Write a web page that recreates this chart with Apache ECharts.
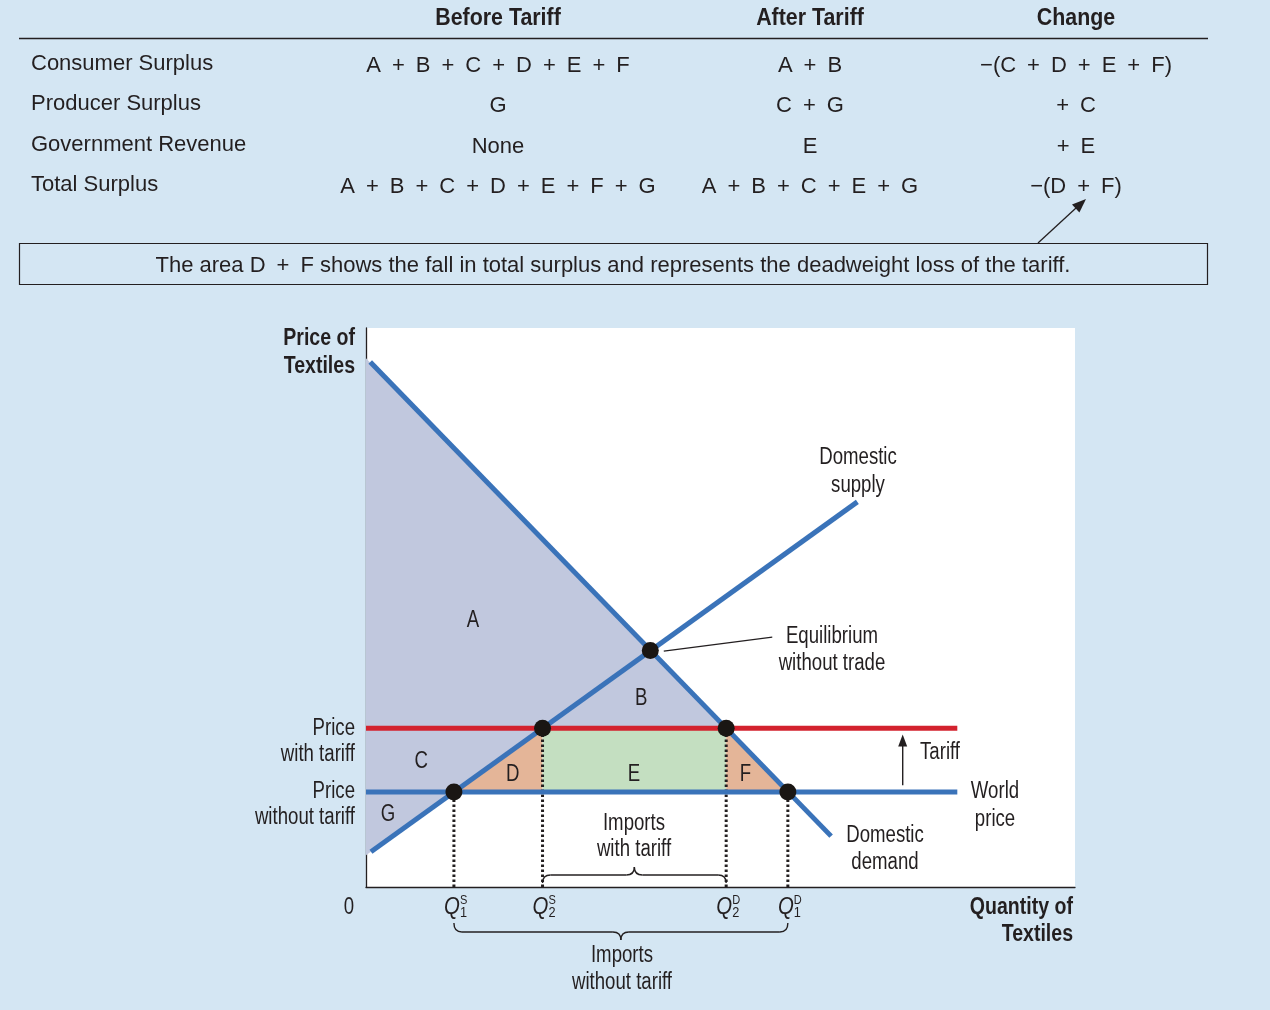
<!DOCTYPE html>
<html><head><meta charset="utf-8">
<script src="https://cdn.jsdelivr.net/npm/echarts@6/dist/echarts.min.js"></script>
<style>html,body{margin:0;padding:0;background:#d4e6f3;}#c{width:1270px;height:1010px;}</style>
</head><body><div id="c"></div>
<script>
// ---------- table data ----------
const tableHeaders = ['Before Tariff', 'After Tariff', 'Change'];
const rowLabels = ['Consumer Surplus', 'Producer Surplus', 'Government Revenue', 'Total Surplus'];
const beforeTariff = ['A + B + C + D + E + F', 'G', 'None', 'A + B + C + D + E + F + G'];
const afterTariff = ['A + B', 'C + G', 'E', 'A + B + C + E + G'];
const changeCol = ['−(C + D + E + F)', '+ C', '+ E', '−(D + F)'];
const noteText = 'The area D + F shows the fall in total surplus and represents the deadweight loss of the tariff.';

// ---------- diagram data (quantity 0-100, price 0-100) ----------
const demandQ = [0.6, 65.6];
const demandP = [93.9, 9.1];
const supplyQ = [0.7, 69.3];
const supplyP = [6.3, 68.9];
const demandAxisPrice = 94.6;   // demand at Q = 0
const supplyAxisPrice = 5.66;   // supply at Q = 0
const worldPrice = 17.0;
const tariffPrice = 28.4;
const priceLineEndQ = 83.4;
const quantitiesQ = [12.4, 24.9, 50.8, 59.5];          // Q1S, Q2S, Q2D, Q1D
const quantitySup = ['S', 'S', 'D', 'D'];
const quantitySub = ['1', '2', '2', '1'];
const quantityPrice = [17.0, 28.4, 28.4, 17.0];
const equilibrium = [40.1, 42.3];
const leaderQ = [42.0, 57.3];
const leaderP = [42.2, 44.7];
const tariffArrowQ = 75.7;
const tariffArrowP = [18.2, 27.3];
const regionNames = ['A', 'B', 'C', 'D', 'E', 'F', 'G'];
const regionQ = [15.1, 38.8, 7.8, 20.7, 37.8, 53.5, 3.1];
const regionP = [47.6, 33.7, 22.4, 20.1, 20.1, 20.1, 12.9];

// ---------- styles ----------
const INK = '#231f20';
const BLUE = '#3a73b9';
const RED = '#d3222e';
const LAV = '#c1c8de';
const ORANGE = '#e4b598';
const GREEN = '#c4dfc1';
const FT = '"Liberation Sans","DejaVu Sans",sans-serif';
const NARROW = 0.81, NARROW_B = 0.85;
const SP = s => s.replace(/ \+ /g, '\u2002+\u2002').replace(/^\+ /, '+\u2002');

function T(text, x, y, font, align, scaleX) {
  return { type: 'text', silent: true, z: 100, x: x, y: y, scaleX: scaleX || 1,
    style: { text: text, x: 0, y: 0, fill: INK, font: font,
      textAlign: align || 'center', align: align || 'center',
      textVerticalAlign: 'middle', verticalAlign: 'middle' } };
}

const graphics = [];
// table
const colX = [498, 810, 1076];
const rowY = [65, 105, 146, 186];
tableHeaders.forEach((h, i) => graphics.push(T(h, colX[i], 19, 'bold 23px ' + FT, 'center', 0.93)));
graphics.push({ type: 'line', silent: true, shape: { x1: 19, y1: 38.5, x2: 1208, y2: 38.5 }, style: { stroke: INK, lineWidth: 1.3 } });
rowLabels.forEach((r, i) => {
  graphics.push(T(r, 31, rowY[i] - 1, '22px ' + FT, 'left'));
  graphics.push(T(SP(beforeTariff[i]), colX[0], rowY[i] + 1, '22px ' + FT));
  graphics.push(T(SP(afterTariff[i]), colX[1], rowY[i] + 1, '22px ' + FT));
  graphics.push(T(SP(changeCol[i]), colX[2], rowY[i] + 1, '22px ' + FT));
});
graphics.push({ type: 'rect', silent: true, shape: { x: 19.5, y: 243.5, width: 1188, height: 41 }, style: { fill: 'none', stroke: INK, lineWidth: 1.2 } });
graphics.push(T(SP(noteText), 613, 266, '22px ' + FT));
graphics.push({ type: 'line', silent: true, shape: { x1: 1038, y1: 243, x2: 1076, y2: 208 }, style: { stroke: INK, lineWidth: 1.3 } });
graphics.push({ type: 'polygon', silent: true, shape: { points: [[1086, 199], [1079.4, 212.4], [1072.0, 204.4]] }, style: { fill: INK } });

// diagram texts
const F23 = '23px ' + FT, B23 = 'bold 23px ' + FT;
const DY = 2;
const N = (t, x, y, a) => T(t, x, y + DY, F23, a, NARROW);
const NB = (t, x, y, a) => T(t, x, y + DY, B23, a, NARROW_B);
graphics.push(NB('Price of', 355, 337, 'right'));
graphics.push(NB('Textiles', 355, 365, 'right'));
graphics.push(NB('Quantity of', 1073, 906, 'right'));
graphics.push(NB('Textiles', 1073, 933, 'right'));
graphics.push(N('0', 349, 906));
graphics.push(N('Price', 355, 727, 'right'));
graphics.push(N('with tariff', 355, 753, 'right'));
graphics.push(N('Price', 355, 790, 'right'));
graphics.push(N('without tariff', 355, 816, 'right'));
graphics.push(N('Domestic', 858, 456));
graphics.push(N('supply', 858, 484));
graphics.push(N('Equilibrium', 832, 635));
graphics.push(N('without trade', 832, 662));
graphics.push(N('Tariff', 920, 751, 'left'));
graphics.push(N('World', 995, 790));
graphics.push(N('price', 995, 818));
graphics.push(N('Domestic', 885, 834));
graphics.push(N('demand', 885, 861));
graphics.push(N('Imports', 634, 822));
graphics.push(N('with tariff', 634, 848));
graphics.push(N('Imports', 622, 954));
graphics.push(N('without tariff', 622, 981));

// ---------- helpers for custom series ----------
function polySeries(points, color, z) {
  return { type: 'custom', coordinateSystem: 'cartesian2d', data: [[0, 0]], silent: true, z: z || 1,
    renderItem: (p, api) => ({ type: 'polygon', shape: { points: points.map(pt => api.coord(pt)) }, style: { fill: color } }) };
}
function lineSeries(data, color, width, type, z) {
  return { type: 'line', data: data, symbol: 'none', silent: true, z: z, animation: false,
    lineStyle: { color: color, width: width, type: type || 'solid', cap: 'butt' } };
}
function brace(x1, x2, yb, ym, yt) {
  const xc = (x1 + x2) / 2, r = 8, ls = { stroke: INK, lineWidth: 1.4, fill: 'none' };
  return [
    { type: 'bezierCurve', shape: { x1: x1, y1: yb, cpx1: x1, cpy1: ym, x2: x1 + r, y2: ym }, style: ls },
    { type: 'line', shape: { x1: x1 + r, y1: ym, x2: xc - r, y2: ym }, style: ls },
    { type: 'bezierCurve', shape: { x1: xc - r, y1: ym, cpx1: xc, cpy1: ym, x2: xc, y2: yt }, style: ls },
    { type: 'bezierCurve', shape: { x1: xc, y1: yt, cpx1: xc, cpy1: ym, x2: xc + r, y2: ym }, style: ls },
    { type: 'line', shape: { x1: xc + r, y1: ym, x2: x2 - r, y2: ym }, style: ls },
    { type: 'bezierCurve', shape: { x1: x2 - r, y1: ym, cpx1: x2, cpy1: ym, x2: x2, y2: yb }, style: ls }
  ];
}
function ctext(text, x, y, font, align, sx) {
  return { type: 'text', x: x, y: y, scaleX: sx || 1,
    style: { text: text, x: 0, y: 0, fill: INK, font: font, textAlign: align, align: align,
      textVerticalAlign: 'middle', verticalAlign: 'middle' } };
}

const [qS1, qS2, qD2, qD1] = quantitiesQ;
const series = [
  polySeries([[0, demandAxisPrice], [qD2, tariffPrice], [qS2, tariffPrice], [0, supplyAxisPrice]], LAV, 1),
  polySeries([[qS1, worldPrice], [qS2, tariffPrice], [qS2, worldPrice]], ORANGE, 1),
  polySeries([[qS2, worldPrice], [qS2, tariffPrice], [qD2, tariffPrice], [qD2, worldPrice]], GREEN, 1),
  polySeries([[qD2, tariffPrice], [qD1, worldPrice], [qD2, worldPrice]], ORANGE, 1)
];
quantitiesQ.forEach((q, i) => series.push(lineSeries([[q, 0], [q, quantityPrice[i]]], INK, 3, [2.6, 2.4], 3)));
series.push(lineSeries([[0, worldPrice], [priceLineEndQ, worldPrice]], BLUE, 5, 'solid', 4));
series.push(lineSeries([[0, tariffPrice], [priceLineEndQ, tariffPrice]], RED, 5, 'solid', 4));
series.push(lineSeries([[supplyQ[0], supplyP[0]], [supplyQ[1], supplyP[1]]], BLUE, 5, 'solid', 5));
series.push(lineSeries([[demandQ[0], demandP[0]], [demandQ[1], demandP[1]]], BLUE, 5, 'solid', 5));
series.push(lineSeries([[leaderQ[0], leaderP[0]], [leaderQ[1], leaderP[1]]], INK, 1.3, 'solid', 5));
// equilibrium and intersection points
series.push({ type: 'scatter', symbol: 'circle', symbolSize: 17, silent: true, z: 8, animation: false,
  itemStyle: { color: '#1a1613', opacity: 1 },
  data: quantitiesQ.map((q, i) => [q, quantityPrice[i]]).concat([equilibrium]) });
// region letters
series.push({ type: 'custom', coordinateSystem: 'cartesian2d', silent: true, z: 9,
  data: regionNames.map((n, i) => [regionQ[i], regionP[i]]),
  renderItem: (p, api) => {
    const c = api.coord([api.value(0), api.value(1)]);
    return ctext(regionNames[p.dataIndex], c[0], c[1], '23px ' + FT, 'center', NARROW);
  } });
// quantity labels, braces, tariff arrow
series.push({ type: 'custom', coordinateSystem: 'cartesian2d', silent: true, z: 9, data: [[0, 0]],
  renderItem: (p, api) => {
    const kids = [];
    const base = api.coord([0, 0])[1];
    quantitiesQ.forEach((q, i) => {
      const x = api.coord([q, 0])[0];
      kids.push(ctext('Q', x - 2, base + 20, 'italic 24px ' + FT, 'center', 0.85));
      kids.push(ctext(quantitySup[i], x + 6, base + 13, '13px ' + FT, 'left', 0.85));
      kids.push(ctext(quantitySub[i], x + 6, base + 26, '15px ' + FT, 'left', 0.85));
    });
    const xs2 = api.coord([qS2, 0])[0], xd2 = api.coord([qD2, 0])[0];
    const xs1 = api.coord([qS1, 0])[0], xd1 = api.coord([qD1, 0])[0];
    brace(xs2, xd2, base - 4, base - 12, base - 20).forEach(k => kids.push(k));
    brace(xs1, xd1, base + 36, base + 45, base + 53).forEach(k => kids.push(k));
    const a0 = api.coord([tariffArrowQ, tariffArrowP[0]]), a1 = api.coord([tariffArrowQ, tariffArrowP[1]]);
    kids.push({ type: 'line', shape: { x1: a0[0], y1: a0[1], x2: a1[0], y2: a1[1] + 8 }, style: { stroke: INK, lineWidth: 1.4 } });
    kids.push({ type: 'polygon', shape: { points: [[a1[0], a1[1]], [a1[0] - 4.5, a1[1] + 12], [a1[0] + 4.5, a1[1] + 12]] }, style: { fill: INK } });
    return { type: 'group', children: kids };
  } });

const chart = echarts.init(document.getElementById('c'));
chart.setOption({
  backgroundColor: '#d4e6f3',
  animation: false,
  grid: { left: 366, top: 328, width: 709, height: 559, show: true, backgroundColor: '#ffffff', borderWidth: 0 },
  xAxis: { type: 'value', min: 0, max: 100, axisLine: { show: true, lineStyle: { color: INK, width: 1.3 } },
    axisTick: { show: false }, axisLabel: { show: false }, splitLine: { show: false } },
  yAxis: { type: 'value', min: 0, max: 100, axisLine: { show: true, lineStyle: { color: INK, width: 1.3 } },
    axisTick: { show: false }, axisLabel: { show: false }, splitLine: { show: false } },
  graphic: graphics,
  series: series
});
</script></body></html>
